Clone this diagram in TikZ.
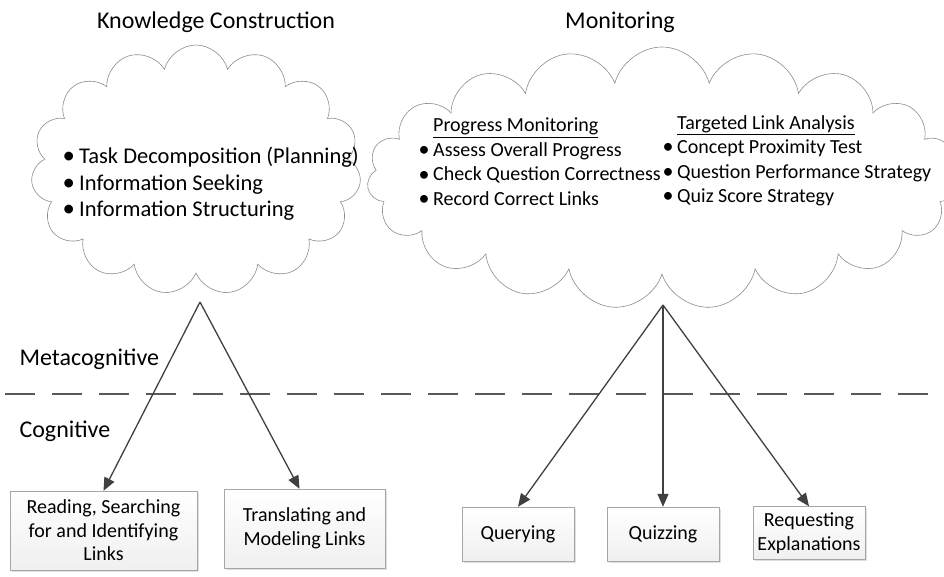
\documentclass[tikz,border=0pt]{standalone}
\usepackage{fontspec}
\setmainfont{Carlito}
\usetikzlibrary{shapes.symbols,arrows.meta,shadows}
\definecolor{linegray}{HTML}{404040}
\definecolor{cloudgray}{HTML}{8C8C8C}
\definecolor{boxgray}{HTML}{A6A6A6}
\definecolor{dashgray}{HTML}{595959}
\newcommand{\bul}[1][17pt]{\hbox to #1{\hspace{0.5pt}\raisebox{-0.3pt}{\scalebox{1.1}{\textbullet}}\hfil}}
\tikzset{
	puff/.style={cloud, cloud puffs=15, cloud ignores aspect, draw=cloudgray, line width=0.6pt},
	actbox/.style={draw=boxgray, top color=white, bottom color=gray!12, drop shadow={opacity=0.25, shadow xshift=1.5pt, shadow yshift=-1.5pt}, align=center, inner sep=0pt, font=\fontsize{20}{23.5}\selectfont},
	arr/.style={draw=linegray, line width=1.3pt, -{Triangle[length=13pt,width=11pt]}},
	lbl/.style={font=\fontsize{24}{28}\selectfont},
	listtext/.style={anchor=north west, align=left, inner sep=0pt},
	divide/.style={draw=dashgray, line width=2.5pt, dash pattern=on 30pt off 17pt}
}
\begin{document}
\begin{tikzpicture}[x=1pt,y=-1pt]
			\useasboundingbox (0,0) rectangle (944,577);
			\node[lbl] (kc) at (216,22) {Knowledge Construction};
			\node[lbl] (mon) at (620,22) {Monitoring};
			\node[puff, minimum width=330pt, minimum height=250pt] (kccloud) at (196,170) {};
			\node[puff, cloud puffs=19, minimum width=590pt, minimum height=262pt] (moncloud) at (662,178) {};
			\node[listtext, font=\fontsize{22.5}{26.5}\selectfont] (kclist) at (62,147) {\bul Task Decomposition (Planning)\\ \bul Information Seeking\\ \bul Information Structuring};
			\node[listtext, font=\fontsize{20}{24.5}\selectfont] (pmlist) at (418,118) {\hspace*{15pt}\underline{Progress Monitoring}\\ \bul[15pt]Assess Overall Progress\\ \bul[15pt]Check Question Correctness\\ \bul[15pt]Record Correct Links};
			\node[listtext, font=\fontsize{20}{24.5}\selectfont] (tlalist) at (662,115) {\hspace*{15pt}\underline{Targeted Link Analysis}\\ \bul[15pt]Concept Proximity Test\\ \bul[15pt]Question Performance Strategy\\ \bul[15pt]Quiz Score Strategy};
			\node[lbl, anchor=west] (meta) at (16,359) {Metacognitive};
			\node[lbl, anchor=west] (cog) at (16,431) {Cognitive};
			\coordinate (divl) at (5,394);
			\coordinate (divr) at (944,394);
			\draw[divide] (divl) -- (divr);
			\node[actbox, minimum width=187pt, minimum height=79pt] (read) at (103.5,530.5) {Reading, Searching\\for and Identifying\\Links};
			\node[actbox, minimum width=161pt, minimum height=79pt] (trans) at (304.5,528.5) {Translating and\\Modeling Links};
			\node[actbox, minimum width=112pt, minimum height=54pt] (query) at (518,534) {Querying};
			\node[actbox, minimum width=112pt, minimum height=54pt] (quiz) at (663,534) {Quizzing};
			\node[actbox, minimum width=112pt, minimum height=53pt] (request) at (809,533) {Requesting\\Explanations};
			\coordinate (kcapex) at (200,302);
			\coordinate (monapex) at (663,305);
			\draw[arr] (kcapex) -- (read.north);
			\draw[arr] (kcapex) -- ([xshift=-5pt]trans.north);
			\draw[arr] (monapex) -- (query.north);
			\draw[arr] (monapex) -- (quiz.north);
			\draw[arr] (monapex) -- (request.north);
\end{tikzpicture}
\end{document}
